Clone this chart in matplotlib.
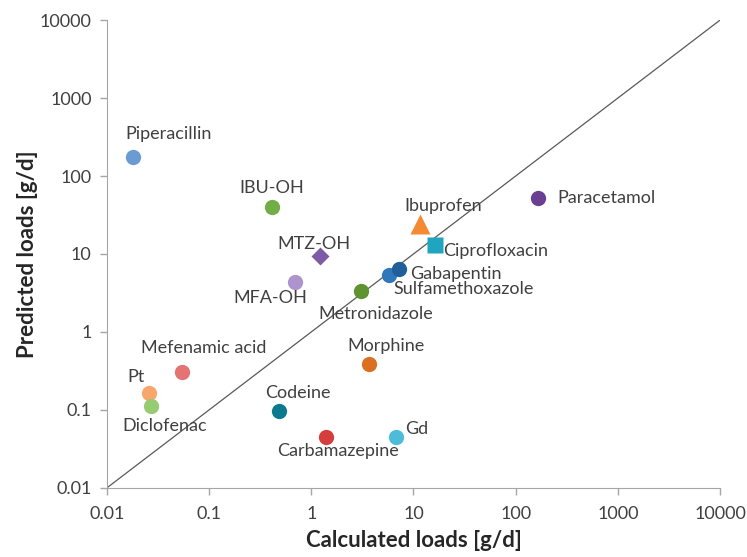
import matplotlib
matplotlib.use('Agg')
import matplotlib.pyplot as plt
from matplotlib.ticker import FixedLocator, FixedFormatter

plt.rcParams['font.family'] = ['Lato', 'DejaVu Sans']

# values
names = ['Piperacillin', 'IBU-OH', 'MTZ-OH', 'MFA-OH', 'Metronidazole',
         'Sulfamethoxazole', 'Gabapentin', 'Ciprofloxacin', 'Ibuprofen',
         'Paracetamol', 'Mefenamic acid', 'Pt', 'Diclofenac', 'Codeine',
         'Morphine', 'Carbamazepine', 'Gd']
calculated = [0.018, 0.41, 1.22, 0.70, 3.1, 5.7, 7.2, 16.4, 11.7,
              165, 0.054, 0.026, 0.027, 0.485, 3.7, 1.40, 6.8]
predicted = [175, 40, 9.4, 4.4, 3.4, 5.4, 6.5, 13, 24,
             53, 0.31, 0.165, 0.111, 0.097, 0.39, 0.045, 0.045]
tick_vals = [0.01, 0.1, 1, 10, 100, 1000, 10000]
tick_text = ['0.01', '0.1', '1', '10', '100', '1000', '10000']

colors = {
    'Piperacillin': '#6a9bd3', 'IBU-OH': '#72ad45', 'MTZ-OH': '#7e5ba6',
    'MFA-OH': '#ad94cc', 'Metronidazole': '#5e9430', 'Sulfamethoxazole': '#2f78ba',
    'Gabapentin': '#215f9a', 'Ciprofloxacin': '#1fa5bf', 'Ibuprofen': '#f58a35',
    'Paracetamol': '#6a3f92', 'Mefenamic acid': '#e47474', 'Pt': '#f9a66c',
    'Diclofenac': '#97cb72', 'Codeine': '#0b7a8e', 'Morphine': '#db7023',
    'Carbamazepine': '#d63d3d', 'Gd': '#4cbcd8',
}
markers = {'MTZ-OH': ('D', 9), 'Ciprofloxacin': ('s', 12), 'Ibuprofen': ('^', 14)}

# label offsets in pixels (dx, dy, ha)
label_pos = {
    'Piperacillin': (-8, 23, 'left'), 'IBU-OH': (0, 19, 'center'),
    'MTZ-OH': (-6, 12, 'center'), 'MFA-OH': (-25, -16, 'center'),
    'Metronidazole': (14, -23, 'center'), 'Sulfamethoxazole': (5, -14, 'left'),
    'Gabapentin': (11, -5, 'left'), 'Ciprofloxacin': (8, -6, 'left'),
    'Ibuprofen': (-16, 18, 'left'), 'Paracetamol': (19, 0, 'left'),
    'Mefenamic acid': (22, 24, 'center'), 'Pt': (-13, 16, 'center'),
    'Diclofenac': (14, -20, 'center'), 'Codeine': (19, 18, 'center'),
    'Morphine': (17, 18, 'center'), 'Carbamazepine': (12, -14, 'center'),
    'Gd': (9, 8, 'left'),
}

fig = plt.figure(figsize=(7.47, 5.57), dpi=100)
ax = fig.add_axes([0.143, 0.124, 0.821, 0.840])

ax.plot([0.01, 10000], [0.01, 10000], color='#595959', lw=0.9, zorder=1)

for n, x, y in zip(names, calculated, predicted):
    m, ms = markers.get(n, ('o', 11))
    ax.plot([x], [y], marker=m, ms=ms, color=colors[n], mec='none', ls='none', zorder=3)
    dx, dy, ha = label_pos[n]
    ax.annotate(n, (x, y), xytext=(dx, dy), textcoords='offset pixels',
                ha=ha, va='center', fontsize=13, color='#404040', zorder=4)

ax.set_xscale('log')
ax.set_yscale('log')
ax.set_xlim(0.01, 10000)
ax.set_ylim(0.01, 10000)
for axis in (ax.xaxis, ax.yaxis):
    axis.set_major_locator(FixedLocator(tick_vals))
    axis.set_major_formatter(FixedFormatter(tick_text))
    axis.set_minor_locator(FixedLocator([]))
ax.tick_params(axis='both', colors='#a6a6a6', length=5, width=1, labelsize=13,
               labelcolor='#404040')
ax.tick_params(axis='x', pad=8)
ax.tick_params(axis='y', pad=6)

for s in ('top', 'right'):
    ax.spines[s].set_visible(False)
for s in ('left', 'bottom'):
    ax.spines[s].set_color('#a6a6a6')

ax.set_xlabel('Calculated loads [g/d]', fontsize=16, fontweight='bold', color='#262626', labelpad=6)
ax.set_ylabel('Predicted loads [g/d]', fontsize=16, fontweight='bold', color='#262626', labelpad=1)

fig.savefig('out.png', dpi=100)
